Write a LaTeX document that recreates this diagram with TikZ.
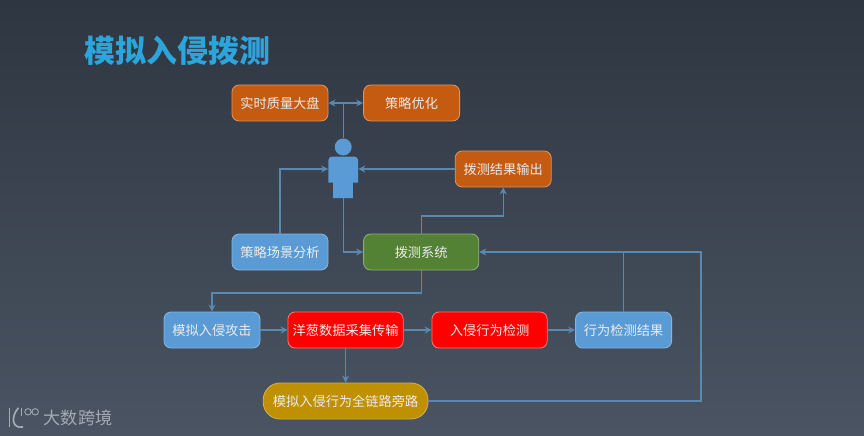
\documentclass[tikz,border=0pt]{standalone}
\usepackage{fontspec}
\setmainfont{Noto Sans CJK SC}
\usepackage{xcolor}
\usetikzlibrary{arrows.meta,positioning,calc}
\definecolor{bgtop}{HTML}{2E3641}
\definecolor{bgbottom}{HTML}{4A5462}
\definecolor{linkblue}{HTML}{5B88B0}
\definecolor{titleblue}{HTML}{2CA5DC}
\definecolor{boxorange}{HTML}{C55A11}
\definecolor{boxblue}{HTML}{5B9BD5}
\definecolor{boxgreen}{HTML}{548235}
\definecolor{boxgold}{HTML}{BF9000}
\definecolor{logogray}{HTML}{A3ABB3}

\begin{document}
\begin{tikzpicture}[
  module/.style={draw, rounded corners=5pt, minimum width=2.4cm, minimum height=0.9cm,
    inner sep=0pt, align=center, font=\fontsize{9.4}{12}\selectfont, text=white!92!black, line width=0.6pt},
  orangebox/.style={module, fill=boxorange, draw=boxorange!65!white},
  bluebox/.style={module, fill=boxblue, draw=boxblue!75!white},
  greenbox/.style={module, fill=boxgreen, draw=boxgreen!65!white, minimum width=2.88cm},
  redbox/.style={module, fill=red, draw=red!55!white, minimum width=2.88cm},
  goldbox/.style={module, fill=boxgold, draw=boxgold!70!white, minimum width=4.12cm, rounded corners=12pt},
  link/.style={draw=linkblue, line width=0.8pt},
  arrow/.style={link, -{Stealth[length=5pt,width=5pt]}}
]
\shade[top color=bgtop, bottom color=bgbottom] (0,0) rectangle (21.6,10.875);

% title
\node[font=\fontsize{22}{26}\selectfont\bfseries, text=titleblue] (title) at (4.44,9.6) {模拟入侵拨测};

% top row
\node[orangebox] (dashboard) at (7,8.3) {实时质量大盘};
\node[orangebox] (tuning) at (10.29,8.3) {策略优化};
\node[orangebox] (output) at (12.58,6.65) {拨测结果输出};

% user
\node[circle, fill=boxblue, minimum size=0.425cm, inner sep=0pt] (head) at (8.58,7.2) {};
\node[minimum width=0.74cm, minimum height=1.04cm, inner sep=0pt] (user) at (8.58,6.44) {};
\fill[boxblue] (8.33,5.92) -- (8.33,6.31) -- (8.21,6.31) [rounded corners=2.5pt] -- (8.21,6.96) -- (8.95,6.96)
  [sharp corners] -- (8.95,6.31) -- (8.82,6.31) -- (8.82,5.92) -- cycle;

% middle row
\node[bluebox] (scene) at (7,4.575) {策略场景分析};
\node[greenbox] (system) at (10.53,4.575) {拨测系统};

% bottom rows
\node[bluebox] (attack) at (5.3,2.625) {模拟入侵攻击};
\node[redbox] (collect) at (8.64,2.625) {洋葱数据采集传输};
\node[redbox] (detect) at (12.24,2.625) {入侵行为检测};
\node[bluebox] (result) at (15.59,2.625) {行为检测结果};
\node[goldbox] (bypass) at (8.64,0.85) {模拟入侵行为全链路旁路};

% logo
\node[font=\fontsize{12.2}{14}\selectfont, text=logogray] (brand) at (1.95,0.43) {大数跨境};
\draw[logogray, line width=1.2pt] (0.24,0.68) -- (0.24,0.2);
\draw[logogray, line width=1.2pt] (0.46,0.68) .. controls (0.26,0.45) and (0.3,0.15) .. (0.58,0.2);
\draw[logogray, line width=0.6pt] (0.53,0.68) -- (0.53,0.47);
\draw[logogray, line width=0.6pt] (0.7,0.58) circle (0.08) (0.88,0.58) circle (0.08);

\coordinate (topjoint) at (head.north |- dashboard.east);
\coordinate (upjoint) at (12.58,5.475);
\coordinate (downjoint) at (5.3,3.55);
\coordinate (farjoint) at (17.525,4.575);

\draw[link] (head.north) -- (topjoint);
\draw[arrow] (topjoint) -- (dashboard.east);
\draw[arrow] (topjoint) -- (tuning.west);
\draw[arrow] (scene.north) |- (user.west |- output.west);
\draw[arrow] (output.west) -- (user.east |- output.west);
\draw[arrow] (user.south) |- (system.west);
\draw[arrow] (system.north) |- (upjoint) -- (output.south);
\draw[arrow] (system.south) |- (downjoint) -- (attack.north);
\draw[arrow] (attack) -- (collect);
\draw[arrow] (collect) -- (detect);
\draw[arrow] (detect) -- (result);
\draw[arrow] (collect) -- (bypass);
\draw[link] (result.north) -- (result.north |- farjoint);
\draw[arrow] (bypass.east) -| (farjoint) -- (system.east);
\end{tikzpicture}
\end{document}
